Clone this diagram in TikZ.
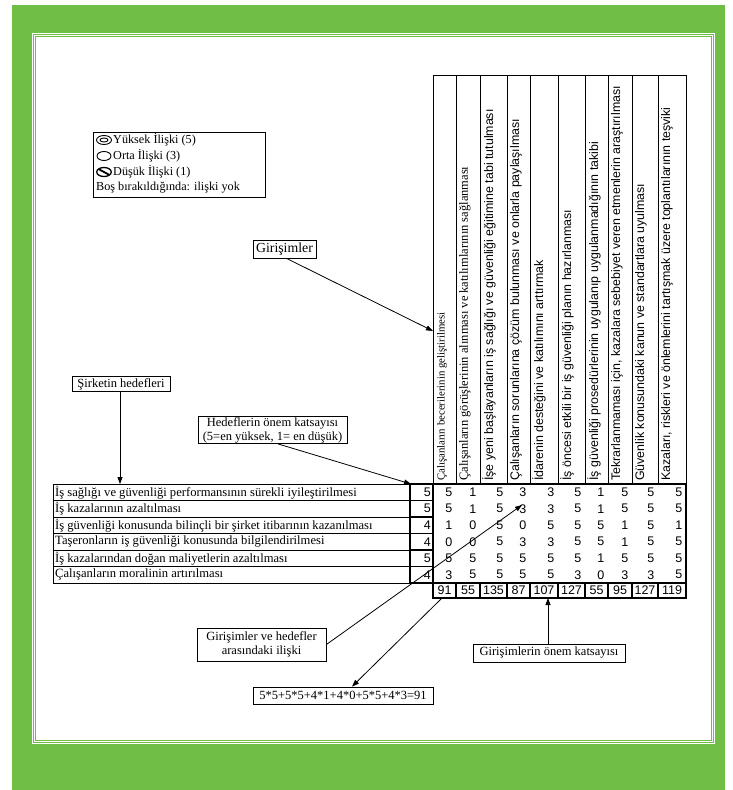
\documentclass[tikz,border=0pt]{standalone}
\usepackage{fontspec}
\setmainfont{Liberation Serif}
\newfontfamily\arial{Liberation Sans}
\usetikzlibrary{arrows.meta}
\definecolor{grn}{RGB}{112,190,69}
\begin{document}
\begin{tikzpicture}[x=1pt,y=-1pt,
  lbl/.style={draw,line width=0.8pt,inner sep=0pt,align=center,font=\fontsize{12.5}{14}\selectfont},
  arr/.style={-{Triangle[length=7pt,width=5pt]},line width=0.8pt},
  goal/.style={anchor=west,inner sep=0pt,font=\fontsize{12.6}{13}\selectfont},
  hdr/.style={rotate=90,anchor=west,inner sep=0pt,font=\arial\fontsize{12.4}{13}\selectfont},
  hdrs/.style={rotate=90,anchor=west,inner sep=0pt,font=\fontsize{10.8}{12}\selectfont},
  hdrt/.style={rotate=90,anchor=west,inner sep=0pt,font=\fontsize{12.5}{13}\selectfont},
  val/.style={anchor=east,inner sep=0pt,font=\arial\fontsize{12.5}{13}\selectfont},
  tot/.style={inner sep=0pt,font=\arial\fontsize{12.5}{13}\selectfont},
  leg/.style={anchor=west,inner sep=0pt,font=\fontsize{12.2}{13}\selectfont}]
\useasboundingbox (0,0) rectangle (733,790);
% background frame
\fill[grn] (12,5) rectangle (725,790);
\fill[white] (32,33) rectangle (715,744);
\draw[grn,line width=0.9pt] (33.5,34.5) rectangle (713.5,742.5);
\draw[grn,line width=0.9pt] (35.8,36.8) rectangle (711.2,740.2);

% legend
\draw[line width=0.8pt] (93,132) rectangle (265,197);
\draw[line width=0.9pt] (104,140) ellipse (7.5pt and 4.5pt);
\draw[line width=0.9pt] (104,140) ellipse (4pt and 2pt);
\draw[line width=0.9pt] (104,156) ellipse (7pt and 4.5pt);
\draw[line width=1.3pt] (104,172) ellipse (7.3pt and 4.5pt);
\draw[line width=1.8pt] (99,169.3) -- (109,174.7);
\node[leg] (l1) at (113,140) {Yüksek İlişki (5)};
\node[leg] (l2) at (113,156) {Orta İlişki (3)};
\node[leg] (l3) at (113,172) {Düşük İlişki (1)};
\node[leg] (l4) at (96,188) {Boş bırakıldığında: ilişki yok};

% header box
\draw[line width=0.8pt] (433,75) rectangle (686,484);
\foreach \x in {456,480,507,530,558,585,608,632,658}
  \draw[line width=0.8pt] (\x,75) -- (\x,484);
\foreach \i/\l/\s/\t in {
 1/433/hdrs/{Çalışanların becerilerinin geliştirilmesi},
 2/456/hdrt/{Çalışanların görüşlerinin alınması ve katılımlarının sağlanması},
 3/480/hdr/{İşe yeni başlayanların iş sağlığı ve güvenliği eğitimine tabi tutulması},
 4/507/hdr/{Çalışanların sorunlarına çözüm bulunması ve onlarla paylaşılması},
 5/530/hdr/{İdarenin desteğini ve katılımını arttırmak},
 6/558/hdr/{İş öncesi etkili bir iş güvenliği planın hazırlanması},
 7/585/hdr/{İş güvenliği prosedürlerinin uygulanıp uygulanmadığının takibi},
 8/608/hdr/{Tekrarlanmaması için, kazalara sebebiyet veren etmenlerin araştırılması},
 9/632/hdr/{Güvenlik konusundaki kanun ve standartlara uyulması},
 10/658/hdr/{Kazaları, riskleri ve önlemlerini tartışmak üzere toplantılarının teşviki}}
  \node[\s] (h\i) at (\l+9,481) {\t};

% goals table
\draw[line width=0.9pt] (53,484) rectangle (410,583);
\foreach \y in {500.5,517,533.5,550,566.5}
  \draw[line width=0.9pt] (53,\y) -- (410,\y);
\foreach \r/\y/\t in {
 1/492.25/{İş sağlığı ve güvenliği performansının sürekli iyileştirilmesi},
 2/508.75/{İş kazalarının azaltılması},
 3/525.25/{İş güvenliği konusunda bilinçli bir şirket itibarının kazanılması},
 4/541.75/{Taşeronların iş güvenliği konusunda bilgilendirilmesi},
 5/558.25/{İş kazalarından doğan maliyetlerin azaltılması},
 6/574.75/{Çalışanların moralinin artırılması}}
  \node[goal] (g\r) at (55,\y) {\t};

% weight column
\draw[line width=1.8pt] (410,484) rectangle (433,583);
\foreach \y in {500.5,517,533.5,550,566.5}
  \draw[line width=1.5pt] (410,\y) -- (433,\y);
% matrix border
\draw[line width=1.3pt] (433,484) rectangle (686,583);

\foreach \r/\y/\w/\vals in {
 1/492.25/5/{5,1,5,3,3,5,1,5,5,5},
 2/508.75/5/{5,1,5,3,3,5,1,5,5,5},
 3/525.25/4/{1,0,5,0,5,5,5,1,5,1},
 4/541.75/4/{0,0,5,3,3,5,5,1,5,5},
 5/558.25/5/{5,5,5,5,5,5,1,5,5,5},
 6/574.75/4/{3,5,5,5,5,3,0,3,3,5}}{
  \node[val] (w\r) at (431,\y) {\w};
  \foreach \v [count=\c] in \vals {
    \pgfmathsetmacro\xr{{456,480,507,530,558,585,608,632,658,686}[\c-1]}
    \node[val] (v\r-\c) at (\xr-3.5,\y) {\v};
  }
}

% totals
\foreach \c/\l/\rr/\t in {1/433/456/91,2/456/480/55,3/480/507/135,4/507/530/87,5/530/558/107,
  6/558/585/127,7/585/608/55,8/608/632/95,9/632/658/127,10/658/686/119}{
  \draw[line width=1.6pt] (\l,583) rectangle (\rr,598);
  \node[tot] (t\c) at ({(\l+\rr)/2},590.5) {\t};
}

% labels
\node[lbl,minimum width=63pt,minimum height=18pt,font=\fontsize{13.8}{15}\selectfont] (gir) at (284.5,249) {Girişimler};
\node[lbl,minimum width=98pt,minimum height=15pt] (sh) at (121,384) {Şirketin hedefleri};
\node[lbl,minimum width=149pt,minimum height=27pt] (hd) at (272.5,430)
  {Hedeflerin önem katsayısı\\(5=en yüksek, 1= en düşük)};
\node[lbl,minimum width=129pt,minimum height=33pt] (gh) at (261.5,644.5)
  {Girişimler ve hedefler\\arasındaki ilişki};
\node[lbl,minimum width=152pt,minimum height=18pt] (go) at (549,653) {Girişimlerin önem katsayısı};
\node[lbl,minimum width=180pt,minimum height=17pt] (fm) at (343,695.5) {5*5+5*5+4*1+4*0+5*5+4*3=91};

% connectors
\coordinate (hp) at (433,331);
\coordinate (gtop) at (120,484);
\coordinate (wtop) at (411,484);
\coordinate (v24p) at (522,505);
\coordinate (t1p) at (442,598);
\coordinate (totb) at (548,598);
\draw[arr] ([xshift=2pt]gir.south) -- (hp);
\draw[arr] (sh.south -| gtop) -- (gtop);
\draw[arr] ([xshift=5.5pt]hd.south) -- (wtop);
\draw[arr] (gh.east) -- (v24p);
\draw[arr] (go.north -| totb) -- (totb);
\draw[arr] (t1p) -- ([xshift=9pt]fm.north);
\end{tikzpicture}
\end{document}
